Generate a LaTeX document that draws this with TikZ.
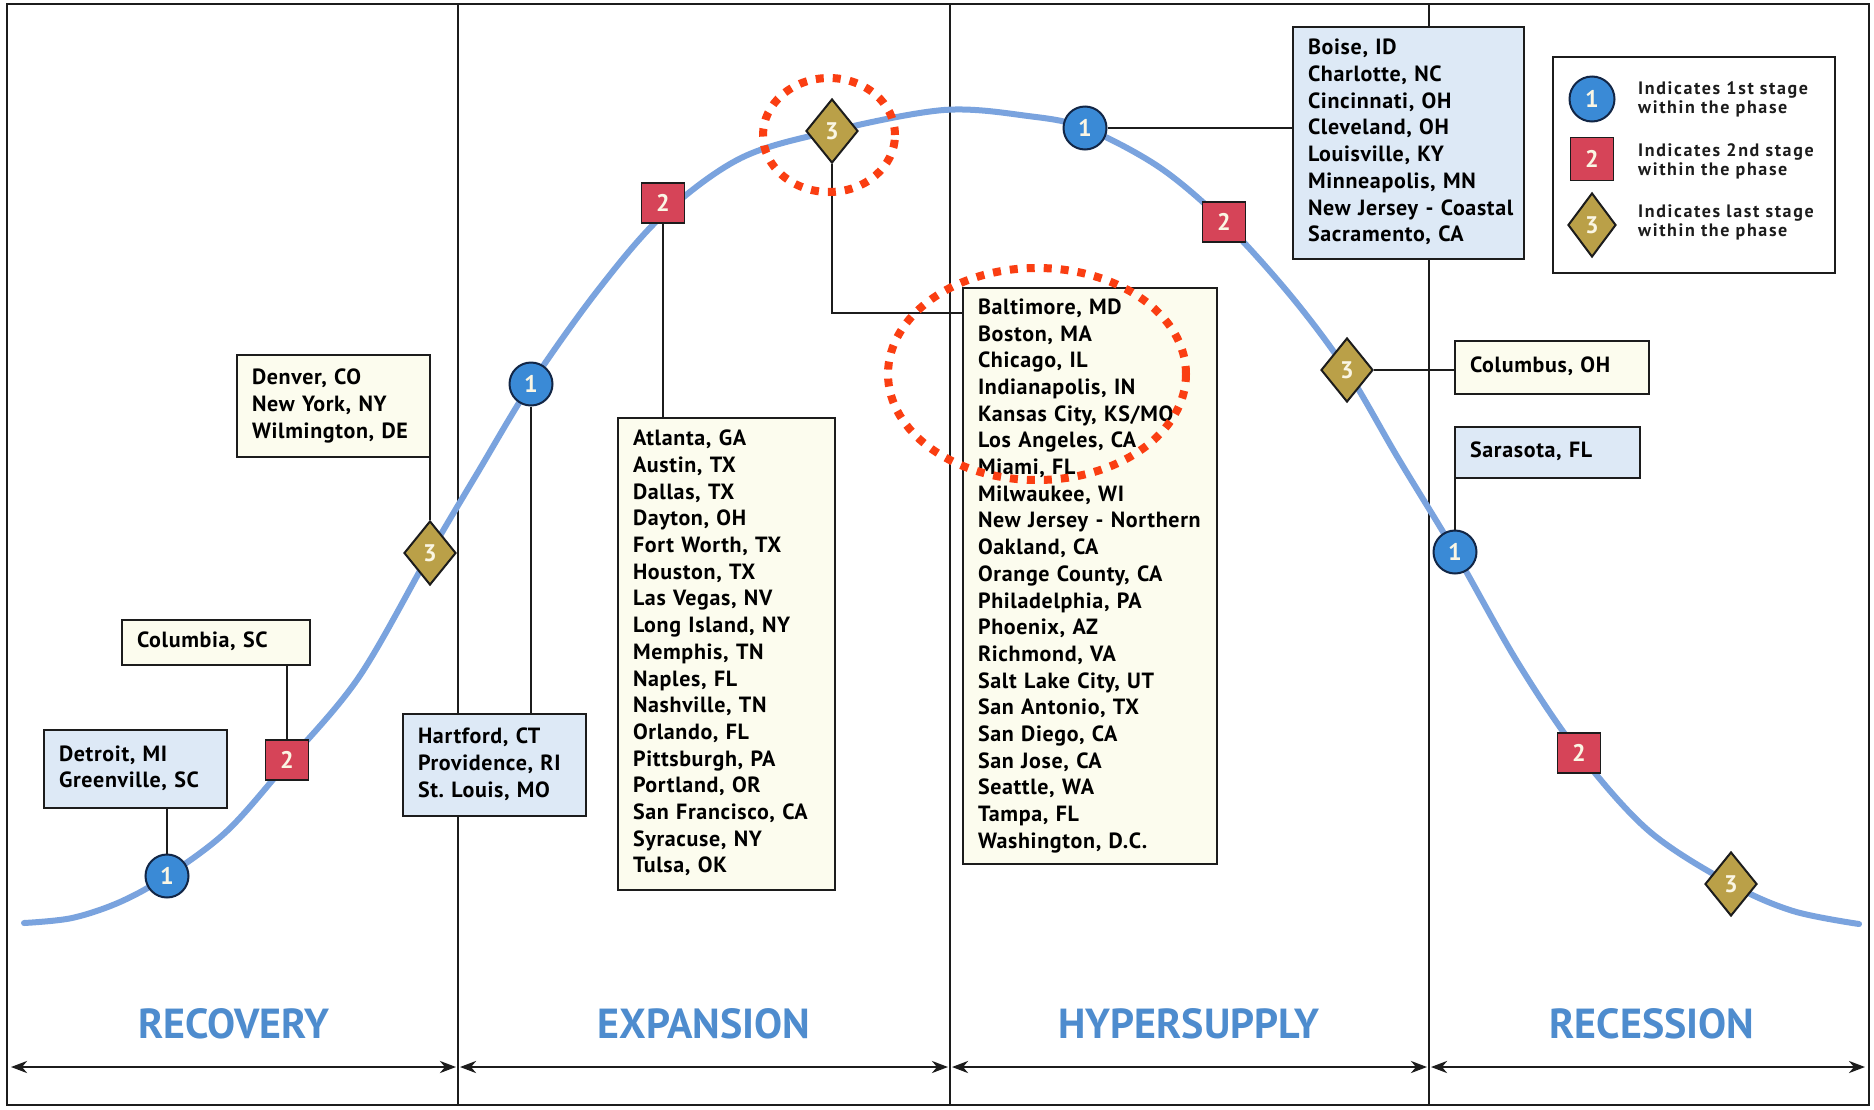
\documentclass[tikz,border=0pt]{standalone}
\usepackage{fontspec}
\setmainfont{PT Sans}
\newfontfamily\phasefont{PT Sans}
\newfontfamily\cityfam[LetterSpace=3]{PT Sans}
\newfontfamily\legfam[LetterSpace=9]{PT Sans}
\usetikzlibrary{shapes.geometric,arrows.meta}
\definecolor{curveblue}{RGB}{122,163,222}
\definecolor{circblue}{RGB}{58,138,214}
\definecolor{sqred}{RGB}{214,68,88}
\definecolor{diagold}{RGB}{186,160,72}
\definecolor{creamfill}{RGB}{252,252,238}
\definecolor{palefill}{RGB}{221,233,246}
\definecolor{phaseblue}{RGB}{78,140,206}
\definecolor{dotred}{RGB}{250,62,18}
\definecolor{edgecol}{RGB}{28,28,28}
\definecolor{navyedge}{RGB}{18,38,70}
\definecolor{digitcol}{RGB}{250,246,228}
\newcommand\cityfont{\cityfam\fontsize{22}{26.7}\selectfont\bfseries\frenchspacing}
\newcommand\legfont{\legfam\fontsize{18}{19.5}\selectfont\bfseries}
\newcommand\digfont{\fontsize{24}{26}\selectfont\bfseries}
\newcommand\phfont{\phasefont\fontsize{42}{46}\selectfont\bfseries}
\newcommand\citylist[1]{\begin{tabular}{@{}l@{}}#1\end{tabular}}
\begin{document}
\begin{tikzpicture}[x=1pt,y=-1pt,
  cbox/.style={draw=edgecol, line width=2pt, inner xsep=15pt, inner ysep=0pt, align=left, font=\cityfont, fill=creamfill},
  bbox/.style={cbox, fill=palefill},
  markone/.style={circle, draw=navyedge, line width=2pt, fill=circblue, minimum size=43pt, inner sep=0pt, text=digitcol, font=\digfont},
  marktwo/.style={rectangle, draw=edgecol, line width=1.6pt, fill=sqred, minimum width=43pt, minimum height=40pt, inner sep=0pt, text=digitcol, font=\digfont},
  markthree/.style={diamond, draw=edgecol, line width=2pt, fill=diagold, minimum width=52pt, minimum height=64pt, inner sep=0pt, text=digitcol, font=\digfont},
  link/.style={draw=edgecol, line width=2.2pt},
  divider/.style={draw=edgecol, line width=1.8pt},
  phase/.style={text=phaseblue, font=\phfont, inner sep=0pt},
  span/.style={draw=edgecol, line width=2.6pt, {Stealth[length=16pt,width=12pt,inset=5pt]}-{Stealth[length=16pt,width=12pt,inset=5pt]}, shorten <=2pt, shorten >=2pt},
  dotring/.style={ellipse, draw=dotred, line width=8pt, dash pattern=on 8pt off 9pt, inner sep=0pt},
  legtext/.style={anchor=west, align=left, font=\legfont, inner sep=0pt, text=edgecol}
]
\useasboundingbox (0,0) rectangle (1874,1109);
\fill[white] (0,0) rectangle (1874,1109);

% frame and dividers
\draw[edgecol, line width=2.6pt] (7,4) rectangle (1869,1105);
\coordinate (d1t) at (458,4); \coordinate (d1b) at (458,1105);
\coordinate (d2t) at (950,4); \coordinate (d2b) at (950,1105);
\coordinate (d3t) at (1429,4); \coordinate (d3b) at (1429,1105);
\draw[divider] (d1t) -- (d1b);
\draw[divider] (d2t) -- (d2b);
\draw[divider] (d3t) -- (d3b);

% arrows
\coordinate (a0) at (9,1067);
\coordinate (a1) at (458,1067);
\coordinate (a2) at (950,1067);
\coordinate (a3) at (1429,1067);
\coordinate (a4) at (1867,1067);
\draw[span] (a0) -- (a1);
\draw[span] (a1) -- (a2);
\draw[span] (a2) -- (a3);
\draw[span] (a3) -- (a4);

% phase labels
\node[phase] (recov) at (234,1024) {RECOVERY};
\node[phase] (expan) at (704,1024) {EXPANSION};
\node[phase] (hyper) at (1189,1024) {HYPERSUPPLY};
\node[phase] (reces) at (1652,1024) {RECESSION};

% curve
\draw[curveblue, line width=6pt, line cap=round] plot[smooth, tension=0.55] coordinates {
 (24,923) (72,918) (120,902) (167,876) (227,831) (287,763) (359,677) (430,553)
 (478,472) (531,384) (598,290) (663,215) (741,158) (832,131) (944,110)
 (1028,116) (1085,128) (1159,167) (1224,222) (1291,296) (1347,371)
 (1398,458) (1455,552) (1518,663) (1579,753) (1649,831) (1731,884)
 (1793,911) (1859,924)};

% boxes
\node[bbox, minimum width=183pt, minimum height=78pt, text width=153pt] (det) at (135.5,769) {\citylist{Detroit, MI\\Greenville, SC}};
\node[cbox, minimum width=188pt, minimum height=45pt, text width=158pt] (colu) at (216,642.5) {\citylist{Columbia, SC}};
\node[cbox, minimum width=193pt, minimum height=102pt, text width=163pt] (den) at (333.5,406) {\citylist{Denver, CO\\New York, NY\\Wilmington, DE}};
\node[bbox, minimum width=183pt, minimum height=102pt, text width=153pt] (hart) at (494.5,765) {\citylist{Hartford, CT\\Providence, RI\\St. Louis, MO}};
\node[cbox, minimum width=217pt, minimum height=472pt, text width=187pt] (atl) at (726.5,654) {\citylist{Atlanta, GA\\Austin, TX\\Dallas, TX\\Dayton, OH\\Fort Worth, TX\\Houston, TX\\Las Vegas, NV\\Long Island, NY\\Memphis, TN\\Naples, FL\\Nashville, TN\\Orlando, FL\\Pittsburgh, PA\\Portland, OR\\San Francisco, CA\\Syracuse, NY\\Tulsa, OK}};
\node[cbox, minimum width=254pt, minimum height=576pt, text width=224pt] (balt) at (1090,576) {\citylist{Baltimore, MD\\Boston, MA\\Chicago, IL\\Indianapolis, IN\\Kansas City, KS/MO\\Los Angeles, CA\\Miami, FL\\Milwaukee, WI\\New Jersey - Northern\\Oakland, CA\\Orange County, CA\\Philadelphia, PA\\Phoenix, AZ\\Richmond, VA\\Salt Lake City, UT\\San Antonio, TX\\San Diego, CA\\San Jose, CA\\Seattle, WA\\Tampa, FL\\Washington, D.C.}};
\node[bbox, minimum width=231pt, minimum height=232pt, text width=201pt] (boise) at (1408.5,143) {\citylist{Boise, ID\\Charlotte, NC\\Cincinnati, OH\\Cleveland, OH\\Louisville, KY\\Minneapolis, MN\\New Jersey - Coastal\\Sacramento, CA}};
\node[cbox, minimum width=194pt, minimum height=53pt, text width=164pt] (colb) at (1552,367.5) {\citylist{Columbus, OH}};
\node[bbox, minimum width=185pt, minimum height=51pt, text width=155pt] (sar) at (1547.5,452.5) {\citylist{Sarasota, FL}};

% legend
\node[draw=edgecol, line width=2pt, fill=white, minimum width=282pt, minimum height=216pt, inner sep=0pt] (legend) at (1694,165) {};

% markers
\node[markone] (r1) at (167,876) {1};
\node[marktwo] (r2) at (287,760) {2};
\node[markthree] (r3) at (430,553) {3};
\node[markone] (e1) at (531,384) {1};
\node[marktwo] (e2) at (663,203) {2};
\node[markthree] (e3) at (832,131) {3};
\node[markone] (h1) at (1085,128) {1};
\node[marktwo] (h2) at (1224,222) {2};
\node[markthree] (h3) at (1347,370) {3};
\node[markone] (c1) at (1455,552) {1};
\node[marktwo] (c2) at (1579,753) {2};
\node[markthree] (c3) at (1731,884) {3};

% connectors
\draw[link] (r1.north) -- (r1.north |- det.south);
\draw[link] (r2.north) -- (r2.north |- colu.south);
\draw[link] (r3.north) -- (r3.north |- den.south);
\draw[link] (e1.south) -- (e1.south |- hart.north);
\draw[link] (e2.south) -- (e2.south |- atl.north);
\coordinate (ebend) at (963,313);
\draw[link] (e3.south) |- (ebend);
\draw[link] (h1.east) -- (h1.east -| boise.west);
\draw[link] (h3.east) -- (h3.east -| colb.west);
\draw[link] (c1.north) -- (c1.north |- sar.south);

% legend content
\node[markone, minimum size=45pt] (lg1) at (1592,99) {1};
\node[marktwo, minimum width=43pt, minimum height=43pt] (lg2) at (1592,159) {2};
\node[markthree, minimum width=48pt, minimum height=64pt] (lg3) at (1592,225) {3};
\node[legtext] (lt1) at (1638,99.5) {Indicates 1st stage\\within the phase};
\node[legtext] (lt2) at (1638,161.5) {Indicates 2nd stage\\within the phase};
\node[legtext] (lt3) at (1638,222.5) {Indicates last stage\\within the phase};

% red dotted highlight rings
\node[dotring, minimum width=132pt, minimum height=114pt] (ring1) at (829,135) {};
\node[dotring, minimum width=298pt, minimum height=212pt] (ring2) at (1037,374) {};
\end{tikzpicture}
\end{document}
